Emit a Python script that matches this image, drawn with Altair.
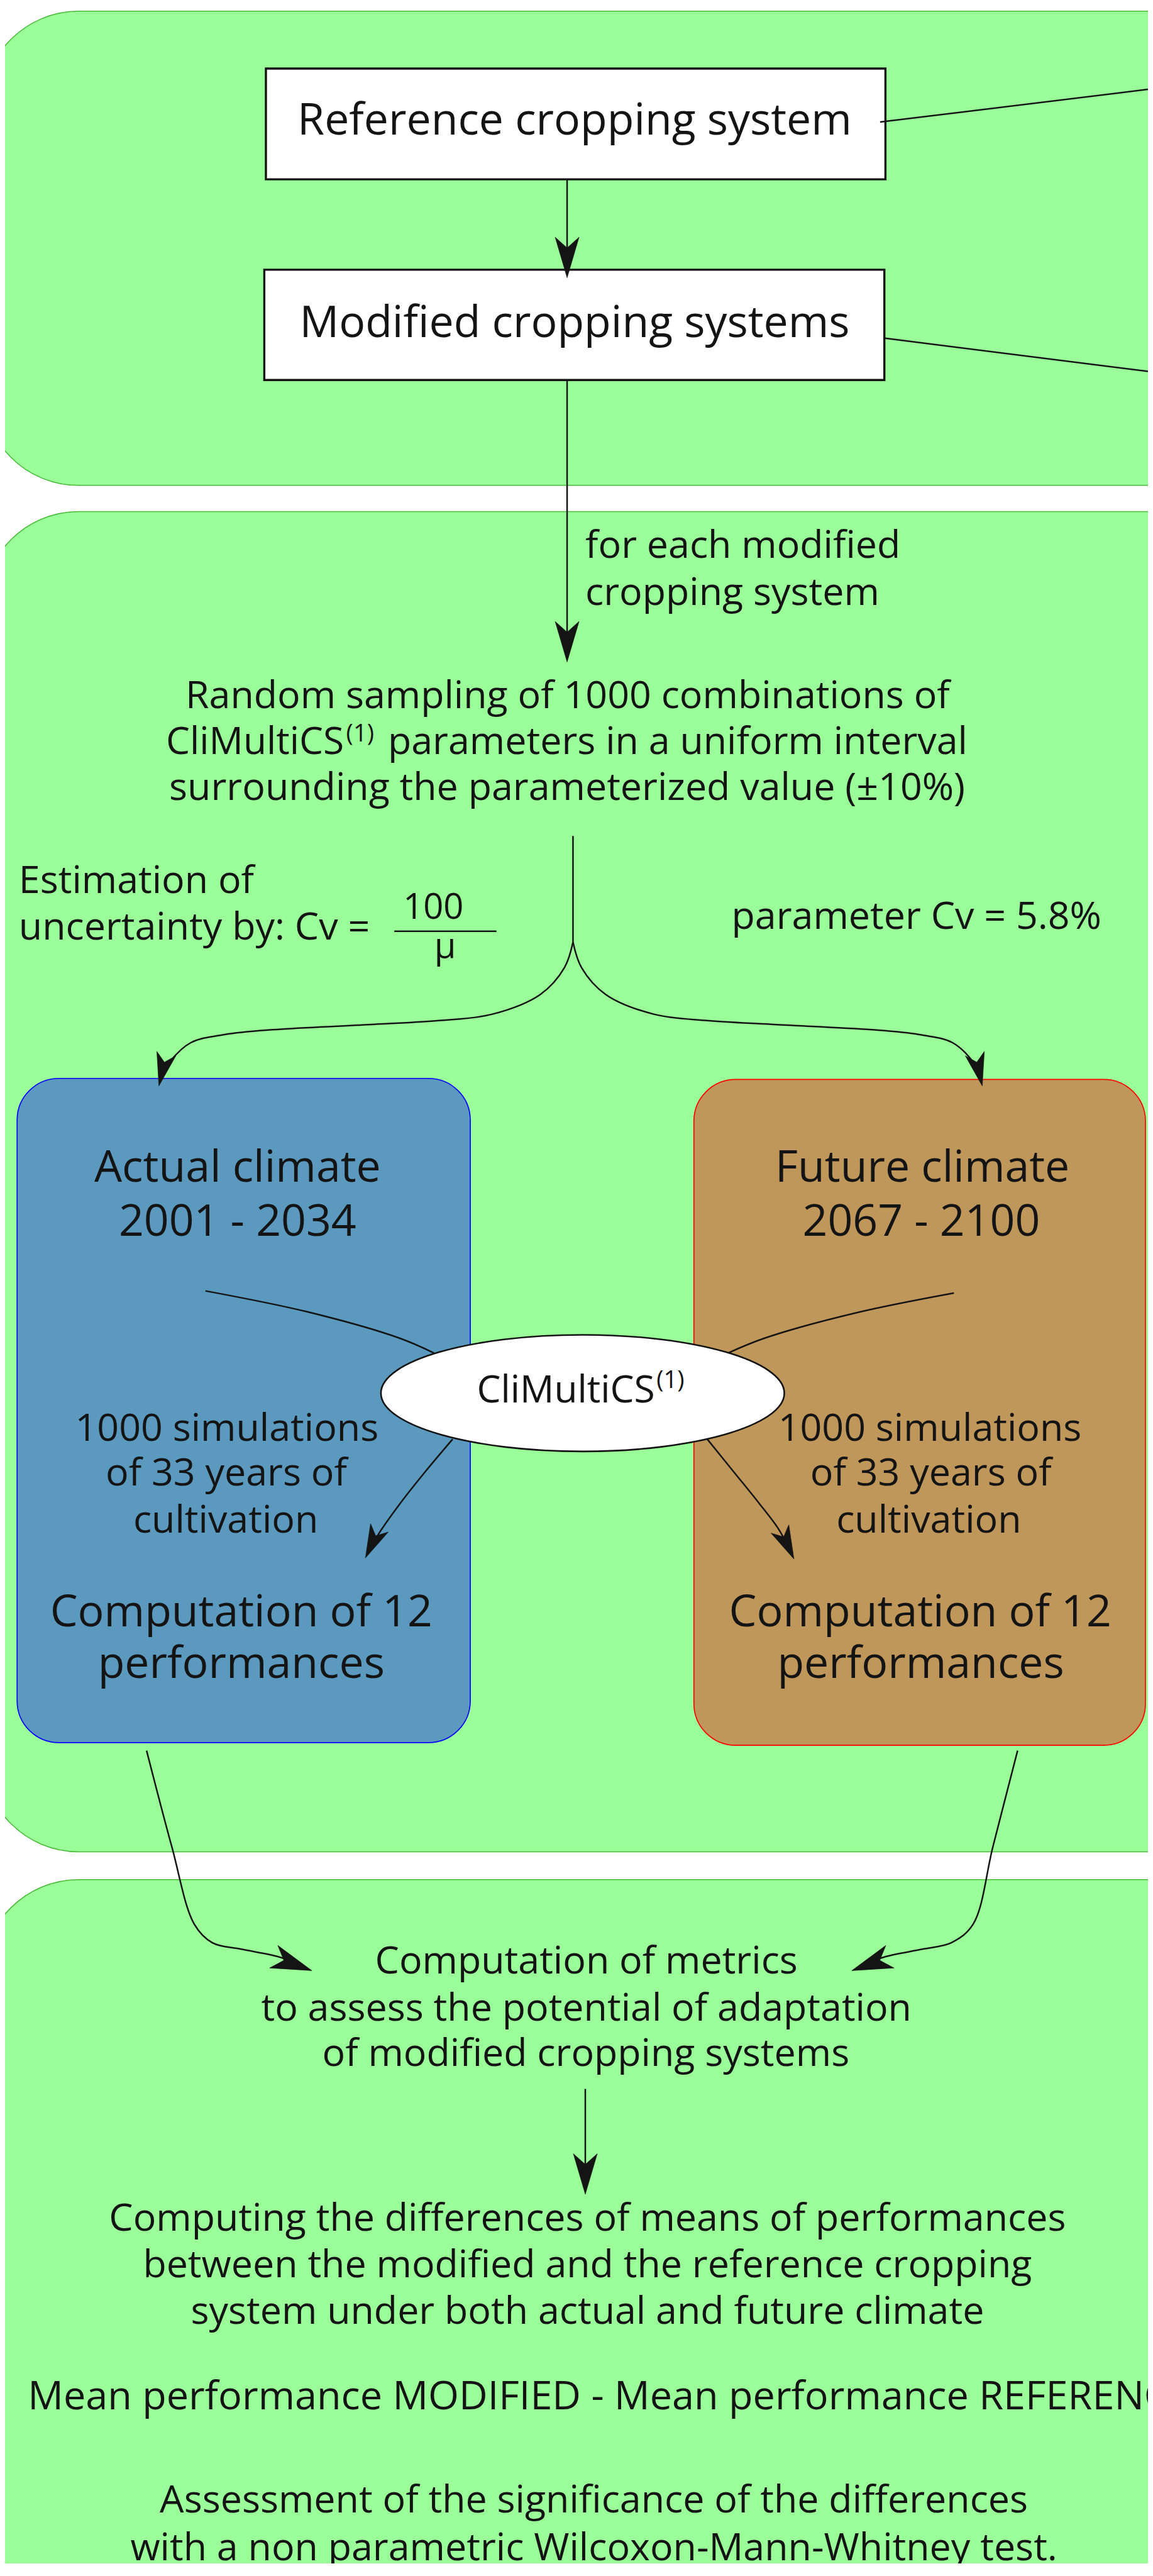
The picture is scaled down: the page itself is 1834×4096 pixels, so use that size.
import altair as alt
import pandas as pd

# ---------------------------------------------------------------
# scale: reference px -> output px (plot kept inside the page's 8px margins)
S = 0.851
W, H = 1818, 4068
X0 = 8 / S                 # reference px hidden by the page margin
Y0 = 8 / S

INK = "#141414"
FONT = "Open Sans"

# ---------------------------------------------------------------
# DATA (positions, in reference pixels)
panel_x = [-32, -32, -32]
panel_x2 = [2700, 2700, 2700]
panel_y = [21, 956, 3512]
panel_y2 = [907, 3460, 5400]

box_x = [497, 494]
box_x2 = [1655, 1653]
box_y = [128, 504]
box_y2 = [335, 710]

climate_x = [32, 1297]
climate_x2 = [879, 2141]
climate_y = [2015, 2017]
climate_y2 = [3256, 3261]
climate_fill = ["#5b99bf", "#c0975a"]
climate_edge = ["#0000ff", "#ff0000"]

ellipse_x = [1089]
ellipse_y = [2603]

# connectors
ref_out_x = [1645, 2170]
ref_out_y = [228, 164]
mod_out_x = [1654, 2170]
mod_out_y = [632, 697]
ref_mod_x = [1060, 1060]
ref_mod_y = [335, 500]
mod_rand_x = [1060, 1060]
mod_rand_y = [710, 1220]
stem_x = [1071, 1071]
stem_y = [1562, 1760]
branch_l_x = [1071, 1055, 1010, 920, 820, 700, 510, 420, 357, 318, 302]
branch_l_y = [1760, 1808, 1858, 1895, 1907, 1914, 1924, 1933, 1948, 1983, 2010]
branch_r_x = [1071, 1087, 1132, 1222, 1322, 1442, 1630, 1718, 1780, 1818, 1832]
branch_r_y = [1760, 1808, 1858, 1895, 1907, 1914, 1924, 1933, 1948, 1983, 2010]
act_in_x = [384, 574, 746, 811]
act_in_y = [2412, 2451, 2500, 2528]
fut_in_x = [1783, 1600, 1430, 1361]
fut_in_y = [2416, 2453, 2500, 2528]
act_out_x = [846, 793, 748, 707, 692]
act_out_y = [2689, 2752, 2809, 2867, 2893]
fut_out_x = [1322, 1373, 1419, 1454, 1476]
fut_out_y = [2689, 2752, 2809, 2855, 2895]
blue_down_x = [274, 321, 363, 397, 451, 520, 560]
blue_down_y = [3271, 3450, 3595, 3630, 3642, 3656, 3671]
brown_down_x = [1902, 1856, 1819, 1778, 1724, 1655, 1615]
brown_down_y = [3271, 3450, 3595, 3630, 3642, 3656, 3671]
metrics_x = [1094, 1094]
metrics_y = [3903, 4085]
frac_x = [737, 928]
frac_y = [1740, 1740]

# arrow heads (tip position and pointing direction, degrees clockwise from up)
big_arrow_x = [1060, 1060, 583, 1592, 1094]
big_arrow_y = [519, 1237, 3682, 3682, 4100]
big_arrow_angle = [180, 180, 110, 250, 180]
small_arrow_x = [297, 1836, 683, 1484]
small_arrow_y = [2029, 2029, 2911, 2913]
small_arrow_angle = [193, 167, 205, 155]

# texts
head_text = ["Reference cropping system", "Modified cropping systems",
             "Actual climate", "2001 - 2034", "Future climate", "2067 - 2100",
             "Computation of 12", "performances", "Computation of 12", "performances"]
head_x = [1074, 1074, 444, 444, 1724, 1722, 451, 451, 1720, 1721]
head_y = [252, 630, 2208, 2309, 2208, 2309, 3039, 3135, 3039, 3135]

body_text = ["Random sampling of 1000 combinations of",
             "surrounding the parameterized value (\u00b110%)",
             "parameter Cv = 5.8%",
             "1000 simulations", "of 33 years of", "cultivation",
             "1000 simulations", "of 33 years of", "cultivation",
             "Computation of metrics", "to assess the potential of adaptation",
             "of modified cropping systems",
             "Computing the differences of means of performances",
             "between the modified and the reference cropping",
             "system under both actual and future climate",
             "Assessment of the significance of the differences",
             "with a non parametric Wilcoxon-Mann-Whitney test."]
body_x = [1061, 1060, 1713, 424, 423, 422, 1738, 1740, 1736,
          1096, 1096, 1095, 1098, 1098, 1098, 1110, 1110]
body_y = [1323, 1495, 1736, 2692, 2775, 2864, 2692, 2775, 2864,
          3688, 3775, 3860, 4168, 4255, 4342, 4694, 4784]

left_text = ["for each modified", "cropping system", "Estimation of",
             "uncertainty by: Cv =", "parameters in a uniform interval"]
left_x = [1094, 1094, 35, 35, 725]
left_y = [1042, 1131, 1669, 1755, 1409]

formula_text = ["Mean performance MODIFIED - Mean performance REFERENCE"]
formula_x = [52]
formula_y = [4502]

right_text = ["CliMultiCS", "CliMultiCS"]
right_x = [643, 1224]
right_y = [1409, 2620]

sup_text = ["(1)", "(1)"]
sup_x = [647, 1227]
sup_y = [1386, 2594]

frac_text = ["100", "\u03bc"]
frac_tx = [810, 832]
frac_ty = [1717, 1790]

# ---------------------------------------------------------------
xs = alt.Scale(domain=[X0, X0 + W / S], nice=False, zero=False)
ys = alt.Scale(domain=[Y0, Y0 + H / S], nice=False, zero=False, reverse=True)


def X(f="x"):
    return alt.X(f"{f}:Q", scale=xs, axis=None)


def Y(f="y"):
    return alt.Y(f"{f}:Q", scale=ys, axis=None)


panels = alt.Chart(pd.DataFrame({"x": panel_x, "x2": panel_x2, "y": panel_y, "y2": panel_y2})).mark_rect(
    fill="#9bff99", stroke="#45bb35", strokeWidth=1.5, cornerRadius=179 * S, clip=True
).encode(x=X(), x2="x2:Q", y=Y(), y2="y2:Q")

boxes = alt.Chart(pd.DataFrame({"x": box_x, "x2": box_x2, "y": box_y, "y2": box_y2})).mark_rect(
    fill="white", stroke=INK, strokeWidth=3.4, clip=True
).encode(x=X(), x2="x2:Q", y=Y(), y2="y2:Q")

climates = alt.Chart(pd.DataFrame({"x": climate_x, "x2": climate_x2, "y": climate_y, "y2": climate_y2,
                                   "f": climate_fill, "s": climate_edge})).mark_rect(
    strokeWidth=1.7, cornerRadius=78 * S, clip=True
).encode(x=X(), x2="x2:Q", y=Y(), y2="y2:Q",
         fill=alt.Fill("f:N", scale=None), stroke=alt.Stroke("s:N", scale=None))

conn = [
    ("ref_out", ref_out_x, ref_out_y), ("mod_out", mod_out_x, mod_out_y),
    ("ref_mod", ref_mod_x, ref_mod_y), ("mod_rand", mod_rand_x, mod_rand_y),
    ("stem", stem_x, stem_y), ("bl", branch_l_x, branch_l_y), ("br", branch_r_x, branch_r_y),
    ("ai", act_in_x, act_in_y), ("fi", fut_in_x, fut_in_y),
    ("ao", act_out_x, act_out_y), ("fo", fut_out_x, fut_out_y),
    ("bd", blue_down_x, blue_down_y), ("rd", brown_down_x, brown_down_y),
    ("met", metrics_x, metrics_y), ("frac", frac_x, frac_y),
]
rows = []
for name, cx, cy in conn:
    for k, (a, b) in enumerate(zip(cx, cy)):
        rows.append({"id": name, "k": k, "x": a, "y": b})

lines = alt.Chart(pd.DataFrame(rows)).mark_line(
    color=INK, strokeWidth=2.5, interpolate="catmull-rom", strokeCap="butt", clip=True
).encode(x=X(), y=Y(), detail="id:N", order="k:Q")

ARROW = "M0,0 L0.59,2 L0,1.47 L-0.59,2 Z"


def arrow_layer(xv, yv, av, length):
    df = pd.DataFrame({"x": xv, "y": yv, "a": av})
    return alt.Chart(df).mark_point(
        shape=ARROW, filled=True, fill=INK, stroke=INK, strokeWidth=0.6, opacity=1,
        size=(length * S) ** 2, clip=True
    ).encode(x=X(), y=Y(), angle=alt.Angle("a:Q", scale=None))


ELLIPSE = ("M-1,0 C-1,-0.1596 -0.5523,-0.289 0,-0.289 C0.5523,-0.289 1,-0.1596 1,0 "
           "C1,0.1596 0.5523,0.289 0,0.289 C-0.5523,0.289 -1,0.1596 -1,0 Z")
ellipse = alt.Chart(pd.DataFrame({"x": ellipse_x, "y": ellipse_y})).mark_point(
    shape=ELLIPSE, filled=True, fill="white", stroke=INK, strokeWidth=2.6, opacity=1,
    size=(2 * 377 * S) ** 2, clip=True
).encode(x=X(), y=Y())


def text_layer(labels, xv, yv, size, align):
    df = pd.DataFrame({"t": labels, "x": xv, "y": yv})
    return alt.Chart(df).mark_text(
        font=FONT, fontSize=size * S, align=align, baseline="alphabetic", color=INK, clip=True
    ).encode(x=X(), y=Y(), text="t:N")


chart = alt.layer(
    panels, climates, boxes, lines, ellipse,
    arrow_layer(big_arrow_x, big_arrow_y, big_arrow_angle, 76),
    arrow_layer(small_arrow_x, small_arrow_y, small_arrow_angle, 62),
    text_layer(head_text, head_x, head_y, 82, "center"),
    text_layer(body_text, body_x, body_y, 71.6, "center"),
    text_layer(left_text, left_x, left_y, 71.6, "left"),
    text_layer(formula_text, formula_x, formula_y, 74, "left"),
    text_layer(right_text, right_x, right_y, 71, "right"),
    text_layer(sup_text, sup_x, sup_y, 45, "left"),
    text_layer(frac_text, frac_tx, frac_ty, 66, "center"),
).properties(
    width=W, height=H, padding=0, autosize=alt.AutoSizeParams(type="none"), background="white"
).configure_view(stroke=None)

chart.save("out.html", embed_options={"renderer": "svg", "actions": False})
